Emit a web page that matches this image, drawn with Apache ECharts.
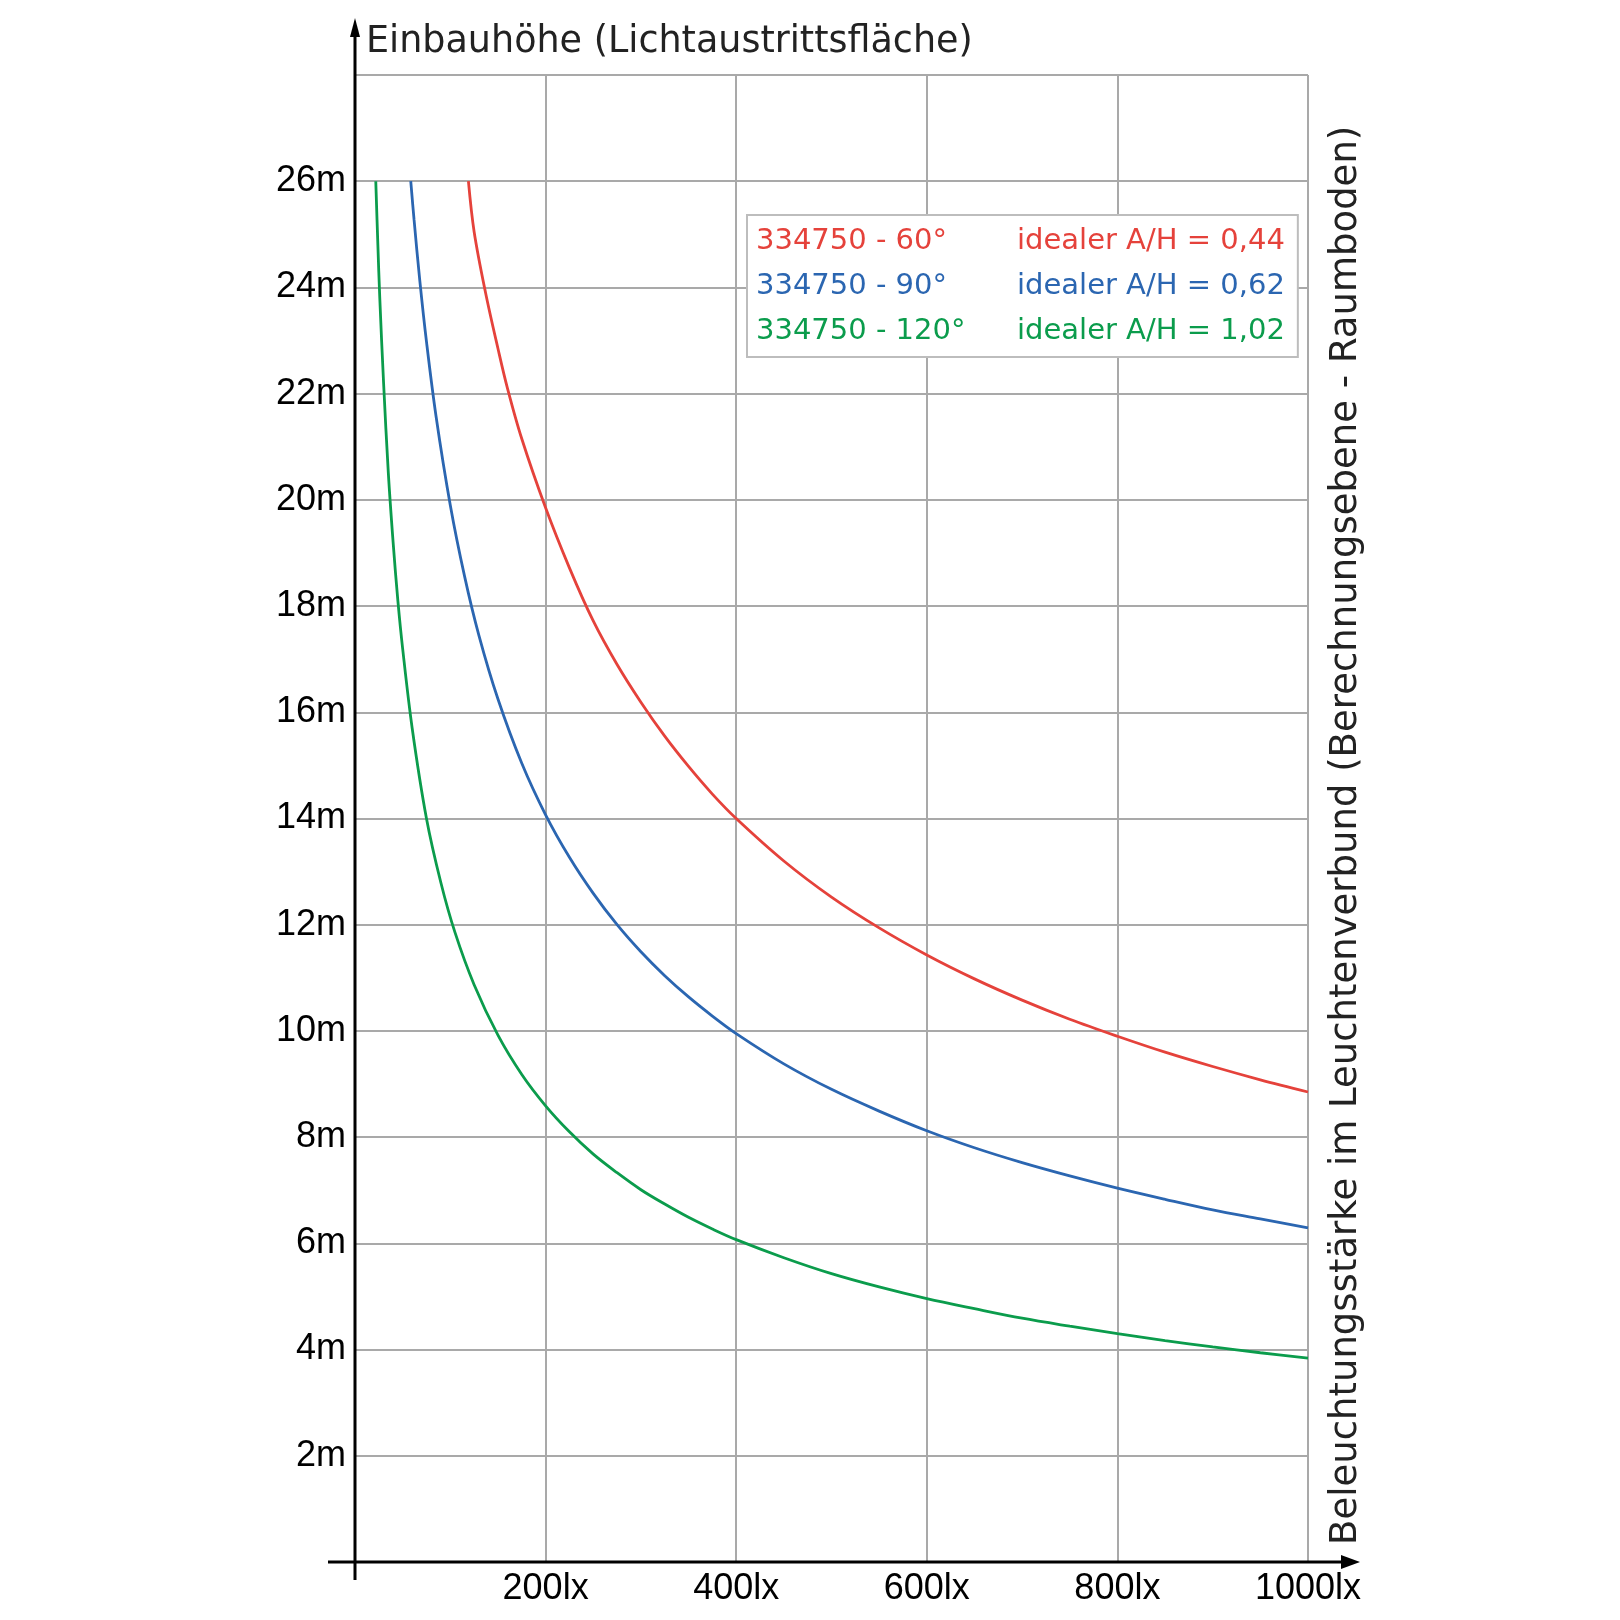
<!DOCTYPE html>
<html>
<head>
<meta charset="utf-8">
<script src="https://cdn.jsdelivr.net/npm/echarts@6/dist/echarts.min.js"></script>
<style>
html,body{margin:0;padding:0;background:#fff;}
#chart{width:1620px;height:1620px;}
</style>
</head>
<body>
<div id="chart"></div>
<script>
// ---- data ----
const seriesNames = ['334750 - 60°', '334750 - 90°', '334750 - 120°'];
const ratioLabels = ['idealer A/H = 0,44', 'idealer A/H = 0,62', 'idealer A/H = 1,02'];
const seriesColors = ['#e5423b', '#2b66b1', '#0b9c4c'];

const luxRed = [119, 125, 137, 150, 160, 175, 200, 225, 250, 275, 300, 325, 350, 375, 400, 450, 500, 550, 600, 650, 700, 750, 800, 850, 900, 950, 1000];
const heightRed = [26, 25.05, 23.9, 22.85, 22.1, 21.15, 19.85, 18.72, 17.72, 16.9, 16.19, 15.55, 14.98, 14.46, 14.0, 13.2, 12.52, 11.94, 11.43, 10.98, 10.58, 10.22, 9.9, 9.6, 9.33, 9.08, 8.85];

const luxBlue = [58.5, 62, 68, 75, 85, 100, 115, 130, 150, 175, 200, 225, 250, 275, 300, 325, 350, 375, 400, 450, 500, 550, 600, 650, 700, 750, 800, 850, 900, 950, 1000];
const heightBlue = [26, 25.27, 24.13, 22.98, 21.58, 19.9, 18.56, 17.45, 16.25, 15.04, 14.07, 13.27, 12.59, 12.0, 11.49, 11.04, 10.64, 10.28, 9.95, 9.38, 8.9, 8.49, 8.12, 7.8, 7.52, 7.27, 7.04, 6.83, 6.63, 6.46, 6.29];

const luxGreen = [21.8, 24, 26, 30, 35, 40, 45, 50, 60, 75, 90, 105, 125, 150, 175, 200, 225, 250, 275, 300, 325, 350, 375, 400, 450, 500, 550, 600, 650, 700, 750, 800, 850, 900, 950, 1000];
const heightGreen = [26, 24.8, 23.8, 22.2, 20.5, 19.2, 18.1, 17.2, 15.7, 14.0, 12.8, 11.85, 10.87, 9.92, 9.18, 8.59, 8.1, 7.68, 7.33, 7.01, 6.74, 6.49, 6.27, 6.07, 5.73, 5.43, 5.18, 4.96, 4.77, 4.59, 4.44, 4.3, 4.17, 4.05, 3.94, 3.84];

const xTicksMax = 1000, xStep = 200;
const yTicksMax = 28, yStep = 2;
const yTitle = 'Einbauhöhe (Lichtaustrittsfläche)';
const xTitle = 'Beleuchtungsstärke im Leuchtenverbund (Berechnungsebene - Raumboden)';

// ---- chart ----
const zip = (xs, ys) => xs.map((x, i) => [x, ys[i]]);
const allData = [zip(luxRed, heightRed), zip(luxBlue, heightBlue), zip(luxGreen, heightGreen)];

const titleFont = 'DejaVu Sans';
const tickFont = 'Liberation Sans';
const legendSize = 29;

const rich = {};
seriesNames.forEach((n, i) => {
  rich['a' + i] = {color: seriesColors[i], fontFamily: titleFont, fontSize: legendSize, width: 261, lineHeight: 45};
  rich['b' + i] = {color: seriesColors[i], fontFamily: titleFont, fontSize: legendSize, lineHeight: 45};
});

const chart = echarts.init(document.getElementById('chart'), null, {renderer: 'canvas'});
const option = {
  backgroundColor: '#ffffff',
  animation: false,
  grid: {left: 355, right: 312, top: 75, bottom: 58, containLabel: false},
  legend: {
    orient: 'vertical',
    left: 747, top: 215,
    itemGap: 0, itemWidth: 0, itemHeight: 0,
    icon: 'rect',
    selectedMode: false,
    backgroundColor: '#ffffff',
    borderColor: '#bdbdbd', borderWidth: 2,
    padding: [4, 13, 3, 4],
    data: seriesNames.map(n => ({name: n})),
    formatter: name => {
      const i = seriesNames.indexOf(name);
      return '{a' + i + '|' + name + '}{b' + i + '|' + ratioLabels[i] + '}';
    },
    textStyle: {fontFamily: titleFont, fontSize: legendSize, lineHeight: 45, rich: rich}
  },
  xAxis: {
    type: 'value', min: 0, max: xTicksMax, interval: xStep,
    name: xTitle, nameLocation: 'end', nameRotate: 90, nameGap: 57,
    nameTextStyle: {fontFamily: titleFont, fontSize: 37, color: '#222', align: 'left', verticalAlign: 'bottom', padding: [0, 0, 0, 17]},
    axisLine: {show: false},
    axisTick: {show: false},
    axisLabel: {
      margin: 9, fontFamily: tickFont, fontSize: 36, color: '#000',
      formatter: v => v === 0 ? '' : v + 'lx'
    },
    splitLine: {show: true, lineStyle: {color: '#a9a9a9', width: 2}}
  },
  yAxis: {
    type: 'value', min: 0, max: yTicksMax, interval: yStep,
    name: yTitle, nameLocation: 'end', nameGap: 14,
    nameTextStyle: {fontFamily: titleFont, fontSize: 36.5, color: '#222', align: 'left', verticalAlign: 'bottom', padding: [0, 0, 0, 11]},
    axisLine: {show: false},
    axisTick: {show: false},
    axisLabel: {
      margin: 9, fontFamily: tickFont, fontSize: 36, color: '#000',
      formatter: v => (v === 0 || v === yTicksMax) ? '' : v + 'm'
    },
    splitLine: {show: true, lineStyle: {color: '#a9a9a9', width: 2}}
  },
  series: seriesNames.map((n, i) => ({
    name: n, type: 'line', data: allData[i],
    smooth: 0.35, showSymbol: false, symbol: 'none',
    lineStyle: {color: seriesColors[i], width: 2.8},
    itemStyle: {color: seriesColors[i]},
    z: 3
  }))
};
chart.setOption(option);

// axis lines with arrows, positioned from the grid's own scale
const o = chart.convertToPixel({gridIndex: 0}, [0, 0]);
const xEnd = chart.convertToPixel({gridIndex: 0}, [xTicksMax, 0]);
const yEnd = chart.convertToPixel({gridIndex: 0}, [0, yTicksMax]);
const ox = o[0], oy = o[1];
const axStyle = {stroke: '#000', lineWidth: 3};
chart.setOption({
  graphic: [
    {type: 'line', z: 10, shape: {x1: ox, y1: oy + 18, x2: ox, y2: yEnd[1] - 40}, style: axStyle},
    {type: 'polygon', z: 10, shape: {points: [[ox, yEnd[1] - 57], [ox - 5, yEnd[1] - 38], [ox + 5, yEnd[1] - 38]]}, style: {fill: '#000'}},
    {type: 'line', z: 10, shape: {x1: ox - 27, y1: oy, x2: xEnd[0] + 35, y2: oy}, style: axStyle},
    {type: 'polygon', z: 10, shape: {points: [[xEnd[0] + 52, oy], [xEnd[0] + 33, oy - 7], [xEnd[0] + 33, oy + 7]]}, style: {fill: '#000'}}
  ]
});
</script>
</body>
</html>
